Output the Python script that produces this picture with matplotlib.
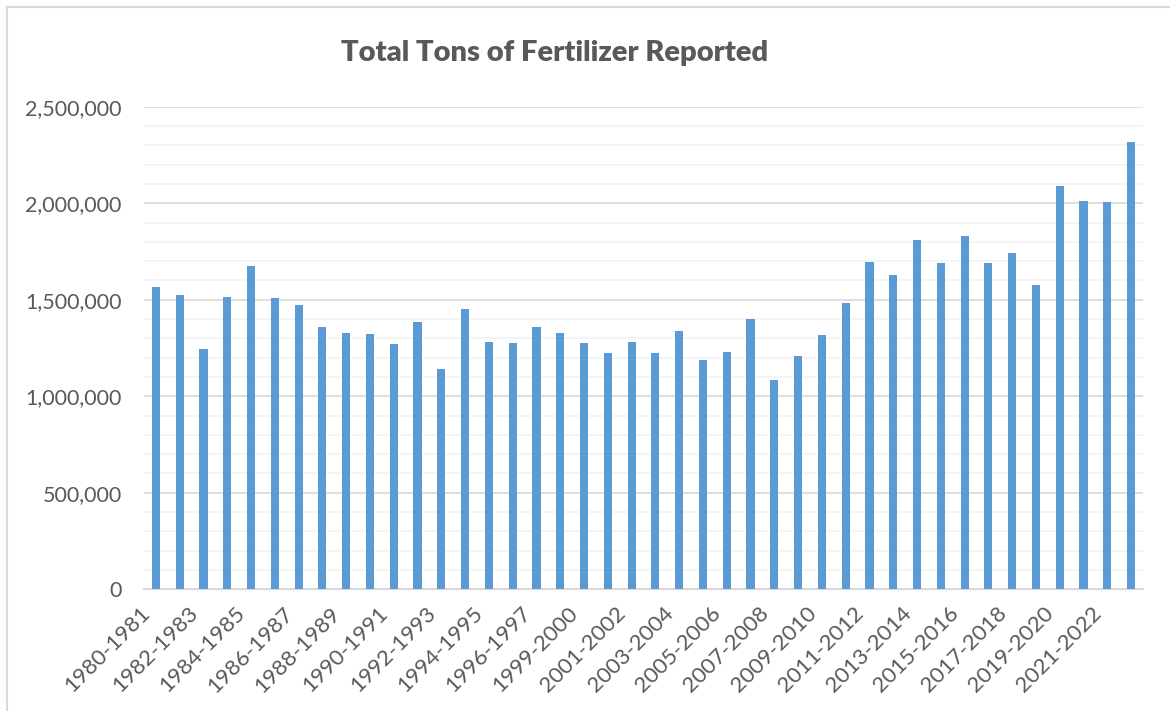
import matplotlib.pyplot as plt
from matplotlib.lines import Line2D
from matplotlib.ticker import MultipleLocator, FuncFormatter
from matplotlib.transforms import ScaledTranslation

# crop seasons (1997-1998 / 1998-1999 only appears once in the source)
seasons = ['1980-1981', '1981-1982', '1982-1983', '1983-1984', '1984-1985',
           '1985-1986', '1986-1987', '1987-1988', '1988-1989', '1989-1990',
           '1990-1991', '1991-1992', '1992-1993', '1993-1994', '1994-1995',
           '1995-1996', '1996-1997', '1997-1998', '1999-2000', '2000-2001',
           '2001-2002', '2002-2003', '2003-2004', '2004-2005', '2005-2006',
           '2006-2007', '2007-2008', '2008-2009', '2009-2010', '2010-2011',
           '2011-2012', '2012-2013', '2013-2014', '2014-2015', '2015-2016',
           '2016-2017', '2017-2018', '2018-2019', '2019-2020', '2020-2021',
           '2021-2022', '2022-2023']

tons = [1567000, 1524000, 1246000, 1512000, 1673000, 1507000, 1471000,
        1360000, 1326000, 1321000, 1269000, 1383000, 1141000, 1450000,
        1279000, 1276000, 1360000, 1329000, 1274000, 1226000, 1279000,
        1222000, 1336000, 1186000, 1228000, 1400000, 1083000, 1207000,
        1316000, 1481000, 1695000, 1626000, 1811000, 1692000, 1828000,
        1688000, 1742000, 1575000, 2087000, 2010000, 2004000, 2317000]

txt = '#595959'
plt.rcParams['font.family'] = ['Lato', 'DejaVu Sans']

fig = plt.figure(figsize=(11.7, 7.11), dpi=100)
ax = fig.add_axes([144 / 1170, 1 - 589.3 / 711, (1143 - 144) / 1170, (589.3 - 106.7) / 711])

x = list(range(len(seasons)))
ax.bar(x, tons, width=0.34, color='#5b9bd5', zorder=3)

ax.set_xlim(-0.5, len(seasons) - 0.5)
ax.set_ylim(0, 2500000)
ax.yaxis.set_major_locator(MultipleLocator(500000))
ax.yaxis.set_minor_locator(MultipleLocator(100000))
ax.yaxis.set_major_formatter(FuncFormatter(lambda v, p: f'{int(v):,}'))
ax.grid(axis='y', which='major', color='#d9d9d9', linewidth=1.2, zorder=0)
ax.grid(axis='y', which='minor', color='#f2f2f2', linewidth=1.2, zorder=0)
ax.tick_params(axis='y', which='both', length=0, pad=16, labelsize=15.5, labelcolor=txt)

for s in ['top', 'right', 'left']:
    ax.spines[s].set_visible(False)
ax.spines['bottom'].set_color('#d9d9d9')
ax.spines['bottom'].set_linewidth(1.5)

ax.set_xticks(x[::2])
ax.set_xticklabels(seasons[::2], rotation=45, ha='right', va='top',
                   rotation_mode='anchor', fontsize=16, color=txt)
ax.tick_params(axis='x', length=0, pad=0)
shift = ScaledTranslation(-0.16, -0.14, fig.dpi_scale_trans)
for lab in ax.get_xticklabels():
    lab.set_transform(lab.get_transform() + shift)

fig.text(555 / 1170, 1 - 53 / 711, 'Total Tons of Fertilizer Reported',
         ha='center', va='center', fontsize=21, fontweight='heavy', color=txt)

# chart frame edges (left and top visible in the crop)
fig.add_artist(Line2D([7 / 1170, 7 / 1170], [0, 1 - 7 / 711], transform=fig.transFigure,
                      color='#d9d9d9', linewidth=1.5))
fig.add_artist(Line2D([7 / 1170, 1], [1 - 7 / 711, 1 - 7 / 711], transform=fig.transFigure,
                      color='#d9d9d9', linewidth=1.5))

fig.savefig('out.png', dpi=100)
